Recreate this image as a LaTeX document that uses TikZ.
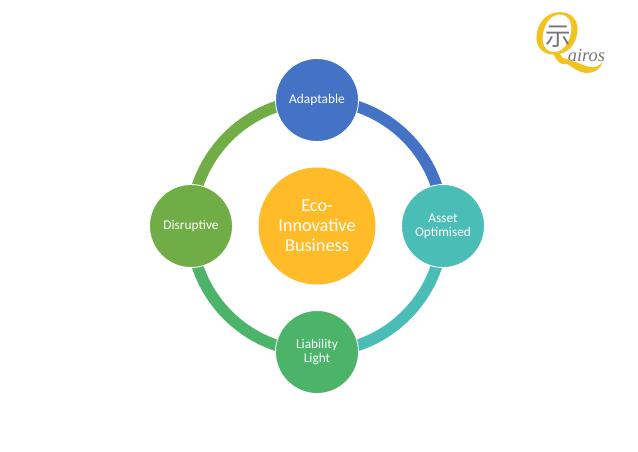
\documentclass[tikz,border=0pt]{standalone}
\usepackage{fontspec}
\setmainfont{Carlito}
\newfontfamily\logofont{Liberation Serif}
\newfontfamily\cjkfont{Noto Sans CJK SC}
\usetikzlibrary{backgrounds}
\definecolor{adaptblue}{HTML}{4472C4}
\definecolor{assetteal}{HTML}{4ABDB6}
\definecolor{lightgreen}{HTML}{4BB469}
\definecolor{disruptgreen}{HTML}{70AD47}
\definecolor{ecoyellow}{HTML}{FFBB28}
\definecolor{logoyellow}{HTML}{F2C21E}
\definecolor{logogray}{HTML}{77777A}
\tikzset{
	ringnode/.style={circle, draw=white, line width=0.5pt, minimum size=1.66cm, inner sep=0pt, align=center, text=white, font=\fontsize{7.6}{8.2}\selectfont},
	econode/.style={circle, fill=ecoyellow, minimum size=2.34cm, inner sep=0pt, align=center, text=white, font=\fontsize{10.4}{11.4}\selectfont},
	ringarc/.style={line width=0.23cm}
}
\begin{document}
\begin{tikzpicture}
	\useasboundingbox (0,0) rectangle (12.76,9.02);
	
	\node[econode] (eco) at (6.34,4.5) {Eco-\\Innovative\\Business};
	\node[ringnode, fill=adaptblue] (adaptable) at (6.34,7.02) {Adaptable};
	\node[ringnode, fill=assetteal] (asset) at (8.86,4.5) {Asset\\Optimised};
	\node[ringnode, fill=lightgreen] (liability) at (6.34,1.98) {Liability\\Light};
	\node[ringnode, fill=disruptgreen] (disruptive) at (3.82,4.5) {Disruptive};
	
	\begin{pgfonlayer}{background}
		\draw[ringarc, adaptblue] (adaptable.center) to[out=0, in=90] (asset.center);
		\draw[ringarc, assetteal] (asset.center) to[out=-90, in=0] (liability.center);
		\draw[ringarc, lightgreen] (liability.center) to[out=180, in=-90] (disruptive.center);
		\draw[ringarc, disruptgreen] (disruptive.center) to[out=90, in=180] (adaptable.center);
	\end{pgfonlayer}
	
	% logo
	\node[text=logoyellow, inner sep=0pt, font=\logofont\itshape\fontsize{36}{36}\selectfont] (logoq) at (11.13,8.24) {Q};
	\node[text=logogray, inner sep=0pt, font=\cjkfont\fontsize{14.5}{15}\selectfont] (logosign) at (11.16,8.28) {示};
	\node[text=logogray, inner sep=0pt, font=\logofont\itshape\fontsize{10.5}{12}\selectfont] (logotext) at (11.73,7.92) {airos};
	\fill[logoyellow] (11.1,7.88) .. controls (11.4,7.86) and (11.6,7.72) .. (11.8,7.68) .. controls (11.9,7.66) and (12,7.7) .. (12.04,7.78) .. controls (12.04,7.66) and (11.9,7.56) .. (11.72,7.56) .. controls (11.5,7.58) and (11.35,7.78) .. (11.1,7.88);
\end{tikzpicture}
\end{document}
